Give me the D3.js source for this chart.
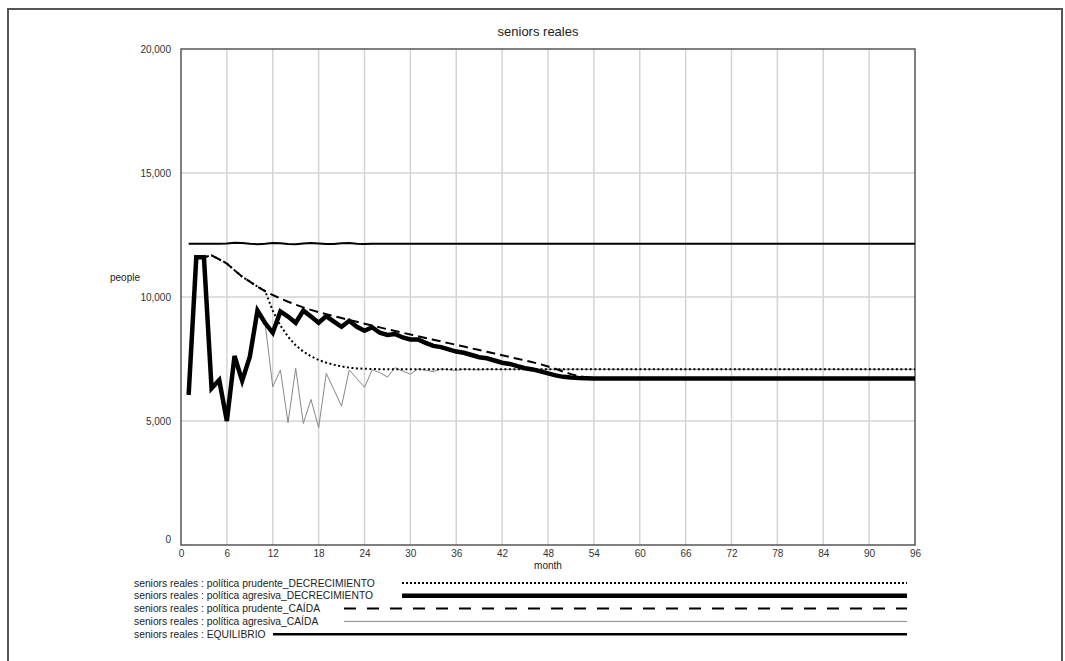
<!DOCTYPE html>
<html>
<head>
<meta charset="utf-8">
<script src="https://cdn.jsdelivr.net/npm/d3@7"></script>
<style>
  body { margin: 0; background: #fff; }
  svg { display: block; font-family: "Liberation Sans", Arial, sans-serif; }
</style>
</head>
<body>
<div id="chart"></div>
<script>
// months 1..96
const months = d3.range(1, 97);

const prudenteDecrecimiento = [
  6050, 11600, 11600, 11680, 11520, 11350, 11080, 10820, 10620, 10420,
  10240, 9450, 8850, 8400, 8050, 7800, 7610, 7460, 7350, 7270,
  7200, 7150, 7120, 7105, 7095, 7090, 7090, 7090, 7090, 7090,
  7090, 7090, 7090, 7090, 7090, 7090, 7090, 7090, 7090, 7090,
  7090, 7090, 7090, 7090, 7090, 7090, 7090, 7090, 7090, 7090,
  7090, 7090, 7090, 7090, 7090, 7090, 7090, 7090, 7090, 7090,
  7090, 7090, 7090, 7090, 7090, 7090, 7090, 7090, 7090, 7090,
  7090, 7090, 7090, 7090, 7090, 7090, 7090, 7090, 7090, 7090,
  7090, 7090, 7090, 7090, 7090, 7090, 7090, 7090, 7090, 7090,
  7090, 7090, 7090, 7090, 7090, 7090
];

const agresivaDecrecimiento = [
  6050, 11600, 11600, 6320, 6650, 5000, 7620, 6620, 7590, 9450,
  8950, 8560, 9420, 9210, 8960, 9450, 9210, 8960, 9230, 9010,
  8800, 9040, 8800, 8640, 8780, 8560, 8470, 8510, 8370, 8290,
  8290, 8150, 8030, 7980, 7890, 7800, 7750, 7660, 7570, 7530,
  7440, 7350, 7300, 7210, 7130, 7080, 7000, 6920, 6840, 6780,
  6750, 6730, 6720, 6715, 6710, 6710, 6710, 6710, 6710, 6710,
  6710, 6710, 6710, 6710, 6710, 6710, 6710, 6710, 6710, 6710,
  6710, 6710, 6710, 6710, 6710, 6710, 6710, 6710, 6710, 6710,
  6710, 6710, 6710, 6710, 6710, 6710, 6710, 6710, 6710, 6710,
  6710, 6710, 6710, 6710, 6710, 6710
];

const prudenteCaida = [
  6050, 11600, 11600, 11680, 11520, 11350, 11080, 10820, 10620, 10420,
  10240, 10080, 9940, 9810, 9690, 9580, 9480, 9390, 9310, 9230,
  9150, 9075, 9000, 8925, 8850, 8775, 8700, 8630, 8560, 8490,
  8420, 8350, 8280, 8210, 8140, 8070, 8000, 7930, 7860, 7790,
  7720, 7650, 7580, 7510, 7440, 7370, 7290, 7200, 7100, 6990,
  6890, 6810, 6760, 6730, 6715, 6710, 6710, 6710, 6710, 6710,
  6710, 6710, 6710, 6710, 6710, 6710, 6710, 6710, 6710, 6710,
  6710, 6710, 6710, 6710, 6710, 6710, 6710, 6710, 6710, 6710,
  6710, 6710, 6710, 6710, 6710, 6710, 6710, 6710, 6710, 6710,
  6710, 6710, 6710, 6710, 6710, 6710
];

const agresivaCaida = [
  6050, 11600, 11600, 6320, 6650, 5000, 7620, 6620, 7590, 9450,
  8950, 6380, 7060, 4930, 7120, 4900, 5870, 4730, 6920, 6260,
  5600, 7060, 6710, 6360, 7060, 6950, 6770, 7150, 7010, 6890,
  7100, 7050, 6990, 7100, 7070, 7040, 7095, 7075, 7060, 7090,
  7080, 7075, 7085, 7085, 7085, 7085, 7085, 7085, 7085, 7085,
  7085, 7085, 7085, 7085, 7085, 7085, 7085, 7085, 7085, 7085,
  7085, 7085, 7085, 7085, 7085, 7085, 7085, 7085, 7085, 7085,
  7085, 7085, 7085, 7085, 7085, 7085, 7085, 7085, 7085, 7085,
  7085, 7085, 7085, 7085, 7085, 7085, 7085, 7085, 7085, 7085,
  7085, 7085, 7085, 7085, 7085, 7085
];

const equilibrio = [
  12150, 12150, 12150, 12150, 12150, 12160, 12190, 12180, 12150, 12130,
  12150, 12180, 12170, 12140, 12130, 12160, 12180, 12160, 12135, 12140,
  12170, 12175, 12150, 12140, 12150, 12150, 12150, 12150, 12150, 12150,
  12150, 12150, 12150, 12150, 12150, 12150, 12150, 12150, 12150, 12150,
  12150, 12150, 12150, 12150, 12150, 12150, 12150, 12150, 12150, 12150,
  12150, 12150, 12150, 12150, 12150, 12150, 12150, 12150, 12150, 12150,
  12150, 12150, 12150, 12150, 12150, 12150, 12150, 12150, 12150, 12150,
  12150, 12150, 12150, 12150, 12150, 12150, 12150, 12150, 12150, 12150,
  12150, 12150, 12150, 12150, 12150, 12150, 12150, 12150, 12150, 12150,
  12150, 12150, 12150, 12150, 12150, 12150
];

const seriesLabels = [
  "seniors reales : política prudente_DECRECIMIENTO",
  "seniors reales : política agresiva_DECRECIMIENTO",
  "seniors reales : política prudente_CAÍDA",
  "seniors reales : política agresiva_CAÍDA",
  "seniors reales : EQUILIBRIO"
];

const xTicks = [0, 6, 12, 18, 24, 30, 36, 42, 48, 54, 60, 66, 72, 78, 84, 90, 96];
const yTicks = [0, 5000, 10000, 15000, 20000];

const width = 1065, height = 661;
const plot = { left: 181, right: 915, top: 49, bottom: 545 };

const svg = d3.select("#chart").append("svg")
  .attr("width", width)
  .attr("height", height);

// outer frame
svg.append("rect")
  .attr("x", 8).attr("y", 9)
  .attr("width", 1054).attr("height", 720)
  .attr("fill", "none")
  .attr("stroke", "#555")
  .attr("stroke-width", 2);

const x = d3.scaleLinear().domain([0, 96]).range([plot.left, plot.right]);
const y = d3.scaleLinear().domain([0, 20000]).range([plot.bottom, plot.top]);

// grid
svg.append("g").selectAll("line")
  .data(xTicks.slice(1, -1))
  .join("line")
  .attr("x1", d => x(d)).attr("x2", d => x(d))
  .attr("y1", plot.top).attr("y2", plot.bottom)
  .attr("stroke", "#d4d4d4").attr("stroke-width", 1.5);

svg.append("g").selectAll("line")
  .data(yTicks.slice(1, -1))
  .join("line")
  .attr("x1", plot.left).attr("x2", plot.right)
  .attr("y1", d => y(d)).attr("y2", d => y(d))
  .attr("stroke", "#d4d4d4").attr("stroke-width", 1.5);

// plot frame
svg.append("rect")
  .attr("x", plot.left).attr("y", plot.top)
  .attr("width", plot.right - plot.left)
  .attr("height", plot.bottom - plot.top)
  .attr("fill", "none")
  .attr("stroke", "#555")
  .attr("stroke-width", 1.5);

// axes (labels only)
const xAxis = svg.append("g")
  .attr("transform", `translate(0,${plot.bottom})`)
  .call(d3.axisBottom(x).tickValues(xTicks).tickSize(0).tickPadding(5));
xAxis.select(".domain").remove();
xAxis.selectAll("text").attr("font-size", 10).attr("fill", "#333")
  .attr("font-family", "Liberation Sans, Arial, sans-serif");

const yAxis = svg.append("g")
  .attr("transform", `translate(${plot.left},0)`)
  .call(d3.axisLeft(y).tickValues(yTicks).tickFormat(d3.format(",")).tickSize(0).tickPadding(10));
yAxis.select(".domain").remove();
yAxis.selectAll("text").attr("font-size", 10).attr("fill", "#333")
  .attr("font-family", "Liberation Sans, Arial, sans-serif")
  .attr("dy", d => d === 0 ? "-0.3em" : "0.32em");

// titles
svg.append("text")
  .attr("x", 538).attr("y", 36)
  .attr("text-anchor", "middle")
  .attr("font-size", 13).attr("fill", "#222")
  .text("seniors reales");

svg.append("text")
  .attr("x", 125).attr("y", 281)
  .attr("text-anchor", "middle")
  .attr("font-size", 10).attr("fill", "#222")
  .text("people");

svg.append("text")
  .attr("x", 548).attr("y", 569)
  .attr("text-anchor", "middle")
  .attr("font-size", 10).attr("fill", "#222")
  .text("month");

// series
const series = [
  { values: prudenteDecrecimiento, width: 2, dash: "2,2.5", color: "#000", legendWidth: 2, legendDash: "2,2" },
  { values: agresivaDecrecimiento, width: 4.5, dash: null, color: "#000", legendWidth: 4.5, legendDash: null },
  { values: prudenteCaida, width: 2, dash: "9,5", color: "#000", legendWidth: 2, legendDash: "12,11" },
  { values: agresivaCaida, width: 1, dash: null, color: "#888", legendWidth: 1, legendDash: null },
  { values: equilibrio, width: 2, dash: null, color: "#000", legendWidth: 2.5, legendDash: null }
];

const line = d3.line()
  .x((d, i) => x(months[i]))
  .y(d => y(d));

// draw last legend entry first so the dotted one ends up on top
svg.append("g").selectAll("path")
  .data(series.slice().reverse())
  .join("path")
  .attr("d", d => line(d.values))
  .attr("fill", "none")
  .attr("stroke", d => d.color)
  .attr("stroke-width", d => d.width)
  .attr("stroke-dasharray", d => d.dash);

// legend
const legendLineStart = [402, 402, 344, 344, 273];
const legendTop = 583, legendStep = 12.8;

const legend = svg.append("g");
series.forEach((s, i) => {
  const ly = legendTop + i * legendStep;
  legend.append("text")
    .attr("x", 134).attr("y", ly)
    .attr("dy", "0.35em")
    .attr("font-size", 10.3).attr("fill", "#222")
    .text(seriesLabels[i]);
  legend.append("line")
    .attr("x1", legendLineStart[i]).attr("x2", 907)
    .attr("y1", ly).attr("y2", ly)
    .attr("stroke", s.color)
    .attr("stroke-width", s.legendWidth)
    .attr("stroke-dasharray", s.legendDash);
});
</script>
</body>
</html>
